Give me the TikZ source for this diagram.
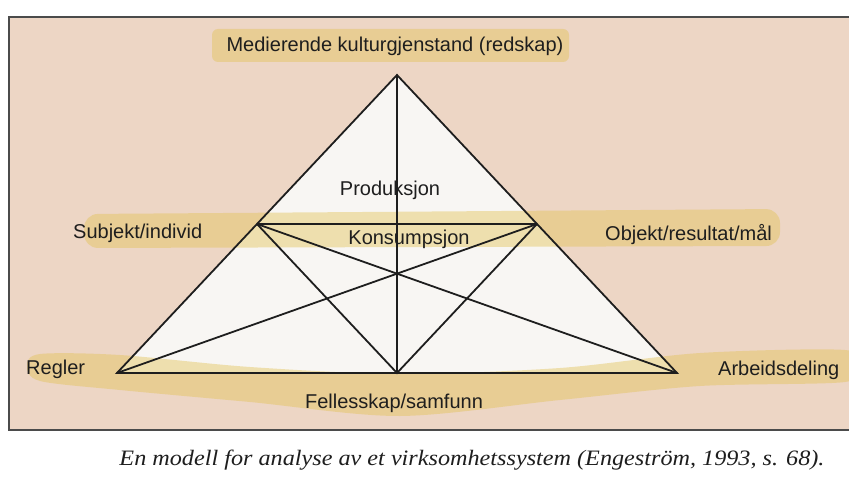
\documentclass[tikz,border=0pt]{standalone}
\usepackage{fontspec}
\setmainfont{Liberation Sans}
\newfontfamily\captionfont[FakeStretch=1.1]{Liberation Serif}
\definecolor{paper}{HTML}{EDD6C5}
\definecolor{inner}{HTML}{F8F6F3}
\definecolor{marker}{HTML}{E3C35A}
\definecolor{ink}{HTML}{1E1E1E}
\tikzset{
    edge/.style = {line width=1.8pt, color=ink, line join=miter},
    lbl/.style = {font=\fontsize{20}{24}\selectfont, text=ink, inner sep=0pt},
    hl/.style = {fill=marker, opacity=0.45}
}
\begin{document}
\begin{tikzpicture}[x=1pt, y=-1pt]
        \useasboundingbox (0,0) rectangle (849,481);
        \fill[white] (0,0) rectangle (849,481);
        \fill[paper] (9,17) rectangle (860,430);
        \draw[line width=1.4pt, color=ink!80] (860,17) -- (9,17) -- (9,430) -- (860,430);
        % corners of the triangle
        \coordinate (tool) at (397,75);
        \coordinate (rules) at (117,373);
        \coordinate (division) at (677,373);
        \coordinate (community) at (397,373);
        \coordinate (subject) at (257,224);
        \coordinate (object) at (537,224);
        \coordinate (centre) at (397,274);
        \fill[inner] (tool) -- (rules) -- (division) -- cycle;
        % highlighter strokes
        \fill[hl, rounded corners=6pt] (212,29) rectangle (569,62);
        \fill[hl, rounded corners=14pt] (84,214) -- (780,209) -- (780,246) -- (84,248) -- cycle;
        \fill[hl] plot[smooth cycle] coordinates {(27,366) (40,354) (120,355) (250,367) (400,374) (560,368) (700,353) (845,350) (849,366) (845,382) (700,386) (560,400) (400,416) (250,402) (120,390) (40,381)};
        % lines
        \draw[edge] (tool) -- (rules) -- (division) -- cycle;
        \draw[edge] (subject) -- (object);
        \draw[edge] (tool) -- (community);
        \draw[edge] (subject) -- (community) -- (object);
        \draw[edge] (subject) -- (division);
        \draw[edge] (object) -- (rules);
        % labels
        \node[lbl, anchor=base] (toolLbl) at (395,52) {Medierende kulturgjenstand (redskap)};
        \node[lbl, anchor=base] (prodLbl) at (390,196) {Produksjon};
        \node[lbl, anchor=base] (consLbl) at (409,245) {Konsumpsjon};
        \node[lbl, anchor=base west] (subjLbl) at (73,239) {Subjekt/individ};
        \node[lbl, anchor=base west] (objLbl) at (605,241) {Objekt/resultat/mål};
        \node[lbl, anchor=base west] (rulesLbl) at (26,374) {Regler};
        \node[lbl, anchor=base west] (divLbl) at (718,375) {Arbeidsdeling};
        \node[lbl, anchor=base] (commLbl) at (394,408) {Fellesskap/samfunn};
        \node[anchor=base, inner sep=0pt, text=ink, font=\captionfont\itshape\fontsize{22}{26}\selectfont] (caption) at (472,465) {En modell for analyse av et virksomhetssystem (Engeström, 1993, s. 68).};
    \end{tikzpicture}
\end{document}
